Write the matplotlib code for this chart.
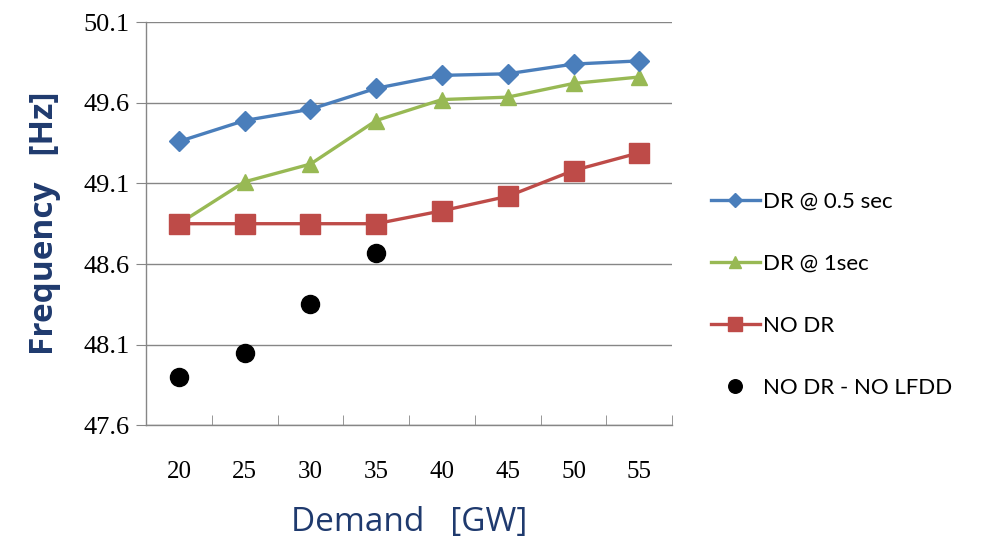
import numpy as np
import matplotlib
matplotlib.use('Agg')
import matplotlib.pyplot as plt
from matplotlib.ticker import FixedLocator

# chart data
demand = ['20', '25', '30', '35', '40', '45', '50', '55']
dr_05 = [49.36, 49.49, 49.56, 49.69, 49.77, 49.78, 49.84, 49.86]
dr_1 = [48.85, 49.11, 49.22, 49.49, 49.62, 49.635, 49.72, 49.76]
no_dr = [48.85, 48.85, 48.85, 48.85, 48.93, 49.02, 49.18, 49.29]
no_dr_lfdd = [47.90, 48.05, 48.35, 48.67]
y_ticks = [47.6, 48.1, 48.6, 49.1, 49.6, 50.1]

x = np.arange(len(demand))

fig = plt.figure(figsize=(9.87, 5.41), dpi=100)
ax = fig.add_axes([0.148, 0.214, 0.533, 0.745])

ax.plot(x, dr_05, color='#4A7EBB', lw=2.4, marker='D', ms=10, label='DR @ 0.5 sec', zorder=4)
ax.plot(x, dr_1, color='#98B954', lw=2.4, marker='^', ms=12, label='DR @ 1sec', zorder=3)
ax.plot(x, no_dr, color='#BE4B48', lw=2.4, marker='s', ms=14, label='NO DR', zorder=3)
ax.plot(x[:len(no_dr_lfdd)], no_dr_lfdd, ls='none', color='black', marker='o', ms=13,
        label='NO DR - NO LFDD', zorder=5)

ax.set_ylim(47.6, 50.1)
ax.set_xlim(-0.5, len(demand) - 0.5)
ax.set_yticks(y_ticks)
ax.set_yticklabels([f'{v:.1f}' for v in y_ticks], family='Liberation Serif', fontsize=19)
ax.set_xticks(x)
ax.set_xticklabels(demand, family='Liberation Serif', fontsize=18)
ax.xaxis.set_minor_locator(FixedLocator(np.arange(-0.5, len(demand), 1.0)))
ax.tick_params(axis='x', which='major', length=0, pad=26)
ax.tick_params(axis='x', which='minor', length=7, color='#868686', direction='in')
ax.tick_params(axis='y', length=7, color='#868686', direction='out', pad=5)
ax.grid(axis='y', color='#868686', lw=1.0)
ax.set_axisbelow(True)
for s in ['top', 'right']:
    ax.spines[s].set_visible(False)
for s in ['left', 'bottom']:
    ax.spines[s].set_color('#868686')
    ax.spines[s].set_linewidth(1.0)

ax.set_xlabel('Demand   [GW]', fontsize=24, color='#1F3A6E', family='Open Sans',
              fontweight='medium', labelpad=16)
ax.set_ylabel('Frequency   [Hz]', fontsize=24, color='#1F3A6E', family='Open Sans',
              fontweight='bold', labelpad=16)

leg = ax.legend(loc='upper left', bbox_to_anchor=(0.72, 0.646), bbox_transform=fig.transFigure,
                frameon=False, labelspacing=1.9, handlelength=2.2, handletextpad=0.15,
                markerscale=0.75, borderpad=0, borderaxespad=0,
                prop={'family': 'Lato', 'size': 16})

fig.savefig('out.png', dpi=100)
